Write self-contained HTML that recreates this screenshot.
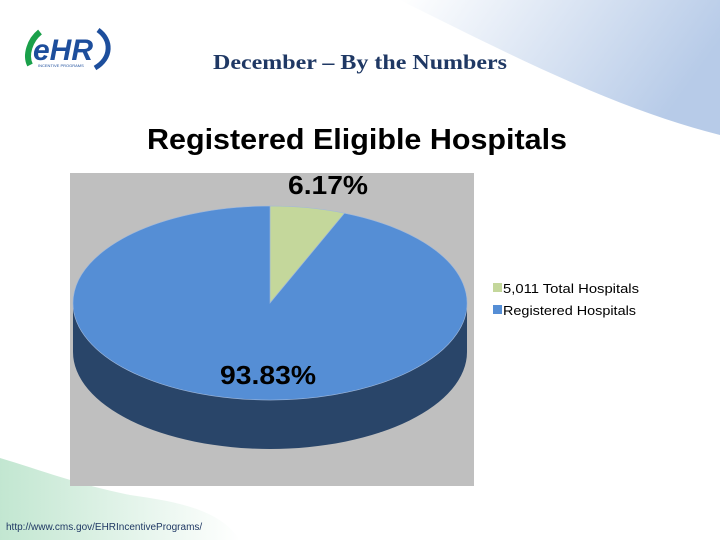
<!DOCTYPE html>
<html><head><meta charset="utf-8"><style>
body{margin:0;width:720px;height:540px;overflow:hidden;background:#fff;position:relative;font-family:"Liberation Sans",sans-serif}
</style></head><body>
<svg width="720" height="540" style="position:absolute;left:0;top:0">
<defs>
<linearGradient id="sw" x1="0" y1="0" x2="1" y2="0.3"><stop offset="0" stop-color="#fff"/><stop offset="1" stop-color="#b7cbe8"/></linearGradient>
<linearGradient id="gw" x1="0" y1="0" x2="1" y2="0"><stop offset="0" stop-color="#a8dcbd"/><stop offset="1" stop-color="#fff"/></linearGradient>
</defs>
<path d="M400 0 L720 0 L720 135 C620 110 520 60 400 0Z" fill="url(#sw)"/>
<path d="M0 458 C40 470 80 485 130 495 C180 502 220 510 240 540 L0 540Z" fill="url(#gw)" opacity="0.7"/>
<g>
<path d="M40 32 C30 40 25 55 30 65" stroke="#1aa04a" stroke-width="6" fill="none"/>
<text x="33" y="60" font-size="30" font-weight="bold" font-style="italic" fill="#1d4e9c">eHR</text>
<path d="M98 30 C112 40 112 58 95 68" stroke="#1d4e9c" stroke-width="5" fill="none"/>
<text x="38" y="67" font-size="4" fill="#1d4e9c">INCENTIVE PROGRAMS</text>
</g>
<text x="213" y="69" font-family="Liberation Serif,serif" font-size="21" font-weight="bold" fill="#1f3864" textLength="294" lengthAdjust="spacingAndGlyphs">December – By the Numbers</text>
<text x="357" y="149" text-anchor="middle" font-size="29" font-weight="bold" fill="#000" textLength="420" lengthAdjust="spacingAndGlyphs">Registered Eligible Hospitals</text>
<rect x="70" y="173" width="404" height="313" fill="#bfbfbf"/>
<g id="pie"></g>
<text x="328" y="194" text-anchor="middle" font-size="26" font-weight="bold" fill="#000" textLength="80" lengthAdjust="spacingAndGlyphs">6.17%</text>
<text x="268" y="384" text-anchor="middle" font-size="26" font-weight="bold" fill="#000" textLength="96" lengthAdjust="spacingAndGlyphs">93.83%</text>
<rect x="493" y="283" width="9" height="9" fill="#c4d79b"/>
<text x="503" y="293" font-size="13" fill="#000" textLength="136" lengthAdjust="spacingAndGlyphs">5,011 Total Hospitals</text>
<rect x="493" y="305" width="9" height="9" fill="#558ed5"/>
<text x="503" y="315" font-size="13" fill="#000" textLength="133" lengthAdjust="spacingAndGlyphs">Registered Hospitals</text>
<text x="6" y="530" font-size="10" fill="#1f3864">http://www.cms.gov/EHRIncentivePrograms/</text>
</svg>
<script>
const categories=["5,011 Total Hospitals","Registered Hospitals"];
const values=[6.17,93.83];
const colors=["#c4d79b","#558ed5"];
const NS="http://www.w3.org/2000/svg";
const cx=270,cy=303,rx=197,ry=97,depth=49;
const g=document.getElementById('pie');
const total=values.reduce((a,b)=>a+b,0);
function pt(a,dy){return [cx+rx*Math.sin(a),cy+dy-ry*Math.cos(a)];}
const side=document.createElementNS(NS,'path');
side.setAttribute('d',`M${cx-rx} ${cy} A${rx} ${ry} 0 0 0 ${cx+rx} ${cy} L${cx+rx} ${cy+depth} A${rx} ${ry} 0 0 1 ${cx-rx} ${cy+depth}Z`);
side.setAttribute('fill','#294569');


g.appendChild(side);
let acc=0;
values.forEach((v,i)=>{
  const a0=acc/total*2*Math.PI;acc+=v;const a1=acc/total*2*Math.PI;
  const p0=pt(a0,0),p1=pt(a1,0);
  const large=(a1-a0)>Math.PI?1:0;
  const p=document.createElementNS(NS,'path');
  p.setAttribute('d',`M${cx} ${cy} L${p0[0]} ${p0[1]} A${rx} ${ry} 0 ${large} 1 ${p1[0]} ${p1[1]}Z`);
  p.setAttribute('fill',colors[i]);
  p.setAttribute('stroke','#9fb8dc');p.setAttribute('stroke-width','0.6');
  
  
  g.appendChild(p);
});
</script>
</body></html>
